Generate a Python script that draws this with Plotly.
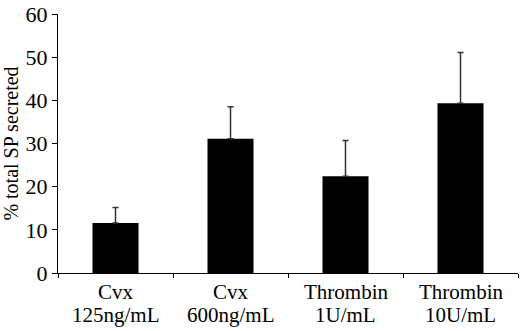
import plotly.graph_objects as go

categories = ["Cvx 125ng/mL", "Cvx 600ng/mL", "Thrombin 1U/mL", "Thrombin 10U/mL"]
label_line1 = ["Cvx", "Cvx", "Thrombin", "Thrombin"]
label_line2 = ["125ng/mL", "600ng/mL", "1U/mL", "10U/mL"]
means = [11.6, 31.1, 22.4, 39.3]
errors_up = [3.6, 7.4, 8.3, 11.8]
y_ticks = [0, 10, 20, 30, 40, 50, 60]

font = "Liberation Serif, Times New Roman, serif"

fig = go.Figure(go.Bar(
    x=categories, y=means,
    marker=dict(color="black", line=dict(width=0)),
    width=0.4,
    error_y=dict(type="data", array=errors_up, arrayminus=[0]*len(means), symmetric=False,
                 color="#333333", thickness=1.5, width=3),
))

for cat, l1, l2 in zip(categories, label_line1, label_line2):
    fig.add_annotation(x=cat, xref="x", y=0, yref="paper", text=l1, showarrow=False,
                       yanchor="top", yshift=-5, font=dict(size=21))
    fig.add_annotation(x=cat, xref="x", y=0, yref="paper", text=l2, showarrow=False,
                       yanchor="top", yshift=-28, font=dict(size=21))

fig.update_layout(
    width=520, height=331,
    margin=dict(l=58, r=2, t=11, b=58),
    plot_bgcolor="white", paper_bgcolor="white",
    font=dict(family=font, size=22, color="black"),
    showlegend=False,
)
fig.update_yaxes(
    range=[0, 60], tickvals=y_ticks, showgrid=False, zeroline=False,
    showline=True, linecolor="black", linewidth=1,
    ticks="outside", ticklen=5, tickcolor="black",
    tickfont=dict(size=22), ticklabeloverflow="allow",
    title=dict(text="% total SP secreted", font=dict(size=20), standoff=9),
)
fig.update_xaxes(
    showgrid=False, showline=True, linecolor="black", linewidth=1,
    ticks="outside", ticklen=4, tickcolor="black", tickson="boundaries",
    showticklabels=False,
)

fig.write_html("out.html", config={"displayModeBar": False},
               post_script="document.body.style.margin='0';document.body.style.overflow='hidden';")
